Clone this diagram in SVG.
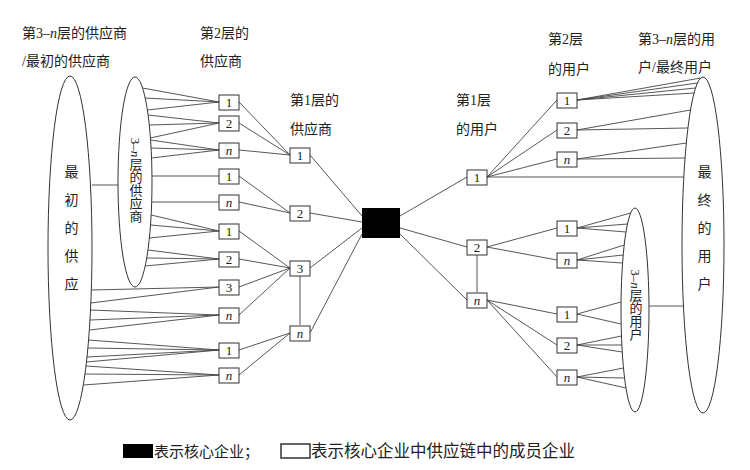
<svg xmlns="http://www.w3.org/2000/svg" width="750" height="470" viewBox="0 0 750 470">
<style>
.t{font-family:"Liberation Serif","Noto Sans CJK SC",serif;font-size:14px;fill:#222}
.b{fill:#fff;stroke:#333;stroke-width:1}
.bt{font-family:"Liberation Serif",serif;font-size:13px;fill:#222;text-anchor:middle}
.i{font-style:italic}
.e{fill:#fff;stroke:#333;stroke-width:1}
.v{font-family:"Liberation Serif","Noto Sans CJK SC",serif;font-size:14px;fill:#222;writing-mode:tb;text-anchor:middle}
.vs{font-size:13px}
#conn line{stroke:#444;stroke-width:0.9;fill:none}
</style>
<rect width="750" height="470" fill="#fff"/>
<g id="ellipses">
<ellipse class="e" cx="70" cy="248" rx="22" ry="172"/>
<ellipse class="e" cx="135" cy="182" rx="17" ry="105"/>
<ellipse class="e" cx="703" cy="245" rx="21" ry="168"/>
<ellipse class="e" cx="635" cy="310" rx="14" ry="102"/>
</g>
<g id="conn">
<line x1="92" y1="185" x2="118" y2="185"/>
<line x1="649" y1="306" x2="683" y2="306"/>
<line x1="142.6" y1="88" x2="219" y2="102"/><line x1="145" y1="98" x2="219" y2="102"/><line x1="147.4" y1="110" x2="219" y2="102"/>
<line x1="148" y1="115" x2="219" y2="123"/><line x1="149" y1="125" x2="219" y2="123"/><line x1="150.3" y1="138" x2="219" y2="123"/>
<line x1="150.6" y1="140" x2="219" y2="150"/><line x1="151" y1="148" x2="219" y2="150"/><line x1="151.5" y1="158" x2="219" y2="150"/>
<line x1="152" y1="176" x2="219" y2="176"/>
<line x1="152" y1="202" x2="219" y2="202"/>
<line x1="151.1" y1="215" x2="219" y2="231"/><line x1="150.5" y1="225" x2="219" y2="231"/><line x1="149.4" y1="238" x2="219" y2="231"/>
<line x1="148" y1="250" x2="219" y2="259"/><line x1="146.7" y1="258" x2="219" y2="259"/><line x1="145.2" y1="266" x2="219" y2="259"/>
<line x1="91.3" y1="290" x2="219" y2="287"/><line x1="90.8" y1="303" x2="219" y2="287"/>
<line x1="90.5" y1="310" x2="219" y2="315"/><line x1="90" y1="320" x2="219" y2="315"/><line x1="89.4" y1="330" x2="219" y2="315"/>
<line x1="88.6" y1="340" x2="219" y2="350"/><line x1="87.8" y1="348" x2="219" y2="350"/><line x1="87" y1="357" x2="219" y2="350"/><line x1="86.5" y1="362" x2="219" y2="350"/>
<line x1="86" y1="366" x2="219" y2="375"/><line x1="85" y1="374" x2="219" y2="375"/><line x1="83.3" y1="385" x2="219" y2="375"/>
<line x1="239" y1="102" x2="290" y2="155"/><line x1="239" y1="123" x2="290" y2="155"/><line x1="239" y1="150" x2="290" y2="155"/>
<line x1="239" y1="176" x2="290" y2="213"/><line x1="239" y1="202" x2="290" y2="213"/>
<line x1="239" y1="231" x2="290" y2="268"/><line x1="239" y1="259" x2="290" y2="268"/><line x1="239" y1="287" x2="290" y2="268"/><line x1="239" y1="315" x2="290" y2="268"/>
<line x1="239" y1="350" x2="290" y2="333"/><line x1="239" y1="375" x2="290" y2="333"/>
<line x1="300" y1="276" x2="300" y2="325"/>
<line x1="310" y1="155" x2="362" y2="216"/><line x1="310" y1="213" x2="362" y2="222"/><line x1="310" y1="268" x2="362" y2="228"/><line x1="310" y1="333" x2="362" y2="234"/>
<line x1="400" y1="216" x2="467" y2="177"/><line x1="400" y1="228" x2="467" y2="247"/><line x1="400" y1="234" x2="467" y2="300"/>
<line x1="487" y1="177" x2="557" y2="100"/><line x1="487" y1="177" x2="557" y2="130"/><line x1="487" y1="177" x2="557" y2="159"/><line x1="487" y1="177" x2="683.8" y2="177"/>
<line x1="487" y1="247" x2="557" y2="228"/><line x1="487" y1="247" x2="557" y2="260"/>
<line x1="477" y1="255" x2="477" y2="292"/>
<line x1="487" y1="300" x2="557" y2="314"/><line x1="487" y1="300" x2="557" y2="345"/><line x1="487" y1="300" x2="557" y2="377"/>
<line x1="577" y1="100" x2="700.7" y2="78"/><line x1="577" y1="100" x2="697.4" y2="83"/><line x1="577" y1="100" x2="695.5" y2="88"/><line x1="577" y1="100" x2="694" y2="93"/>
<line x1="577" y1="130" x2="690.5" y2="110"/><line x1="577" y1="130" x2="688" y2="128"/>
<line x1="577" y1="159" x2="686.3" y2="143"/><line x1="577" y1="159" x2="685" y2="158"/>
<line x1="577" y1="228" x2="630.7" y2="213"/><line x1="577" y1="228" x2="627.5" y2="224"/><line x1="577" y1="228" x2="626" y2="232"/>
<line x1="577" y1="260" x2="624.2" y2="245"/><line x1="577" y1="260" x2="623.2" y2="255"/><line x1="577" y1="260" x2="622.6" y2="263"/>
<line x1="577" y1="314" x2="621" y2="302"/><line x1="577" y1="314" x2="621" y2="324"/>
<line x1="577" y1="345" x2="621.5" y2="336"/><line x1="577" y1="345" x2="621.9" y2="345"/><line x1="577" y1="345" x2="622.2" y2="352"/>
<line x1="577" y1="377" x2="623.5" y2="368"/><line x1="577" y1="377" x2="624.6" y2="378"/><line x1="577" y1="377" x2="626" y2="388"/>
</g>
<g id="core"><rect x="362" y="208" width="38" height="30" fill="#000"/></g>
<g id="L2">
<rect class="b" x="219" y="95" width="20" height="15"/><text class="bt" x="229" y="107">1</text>
<rect class="b" x="219" y="116" width="20" height="15"/><text class="bt" x="229" y="128">2</text>
<rect class="b" x="219" y="143" width="20" height="15"/><text class="bt i" x="229" y="155">n</text>
<rect class="b" x="219" y="169" width="20" height="15"/><text class="bt" x="229" y="181">1</text>
<rect class="b" x="219" y="195" width="20" height="15"/><text class="bt i" x="229" y="207">n</text>
<rect class="b" x="219" y="224" width="20" height="15"/><text class="bt" x="229" y="236">1</text>
<rect class="b" x="219" y="252" width="20" height="15"/><text class="bt" x="229" y="264">2</text>
<rect class="b" x="219" y="280" width="20" height="15"/><text class="bt" x="229" y="292">3</text>
<rect class="b" x="219" y="308" width="20" height="15"/><text class="bt i" x="229" y="320">n</text>
<rect class="b" x="219" y="343" width="20" height="15"/><text class="bt" x="229" y="355">1</text>
<rect class="b" x="219" y="368" width="20" height="15"/><text class="bt i" x="229" y="380">n</text>
</g>
<g id="L1">
<rect class="b" x="290" y="148" width="20" height="15"/><text class="bt" x="300" y="160">1</text>
<rect class="b" x="290" y="206" width="20" height="15"/><text class="bt" x="300" y="218">2</text>
<rect class="b" x="290" y="261" width="20" height="15"/><text class="bt" x="300" y="273">3</text>
<rect class="b" x="290" y="326" width="20" height="15"/><text class="bt i" x="300" y="338">n</text>
</g>
<g id="R1">
<rect class="b" x="467" y="170" width="20" height="15"/><text class="bt" x="477" y="182">1</text>
<rect class="b" x="467" y="240" width="20" height="15"/><text class="bt" x="477" y="252">2</text>
<rect class="b" x="467" y="293" width="20" height="15"/><text class="bt i" x="477" y="305">n</text>
</g>
<g id="R2">
<rect class="b" x="557" y="93" width="20" height="15"/><text class="bt" x="567" y="105">1</text>
<rect class="b" x="557" y="123" width="20" height="15"/><text class="bt" x="567" y="135">2</text>
<rect class="b" x="557" y="152" width="20" height="15"/><text class="bt i" x="567" y="164">n</text>
<rect class="b" x="557" y="221" width="20" height="15"/><text class="bt" x="567" y="233">1</text>
<rect class="b" x="557" y="253" width="20" height="15"/><text class="bt i" x="567" y="265">n</text>
<rect class="b" x="557" y="307" width="20" height="15"/><text class="bt" x="567" y="319">1</text>
<rect class="b" x="557" y="338" width="20" height="15"/><text class="bt" x="567" y="350">2</text>
<rect class="b" x="557" y="370" width="20" height="15"/><text class="bt i" x="567" y="382">n</text>
</g>
<g id="labels">
<text class="t" x="22" y="38">第3–<tspan font-style="italic">n</tspan>层的供应商</text>
<text class="t" x="22" y="66">/最初的供应商</text>
<text class="t" x="200" y="38">第2层的</text>
<text class="t" x="200" y="66">供应商</text>
<text class="t" x="290" y="105">第1层的</text>
<text class="t" x="290" y="134">供应商</text>
<text class="t" x="456" y="105">第1层</text>
<text class="t" x="456" y="134">的用户</text>
<text class="t" x="548" y="44">第2层</text>
<text class="t" x="548" y="74">的用户</text>
<text class="t" x="638" y="44">第3–<tspan font-style="italic">n</tspan>层的用</text>
<text class="t" x="638" y="72">户/最终用户</text>
<text class="v" x="70" y="235" letter-spacing="14">最初的供应</text>
<text class="v vs" x="135" y="180">3–<tspan font-style="italic">n</tspan>层的供应商</text>
<text class="v" x="703" y="235" letter-spacing="14">最终的用户</text>
<text class="v vs" x="635" y="305">3–<tspan font-style="italic">n</tspan>层的用户</text>
</g>
<g id="legend">
<rect x="123" y="444" width="30" height="14" fill="#000"/>
<text class="t" x="154" y="457" style="font-size:15px">表示核心企业；</text>
<rect x="281" y="444" width="29" height="14" fill="#fff" stroke="#333" stroke-width="1.5"/>
<text class="t" x="311" y="457" style="font-size:16.5px">表示核心企业中供应链中的成员企业</text>
</g>
</svg>
